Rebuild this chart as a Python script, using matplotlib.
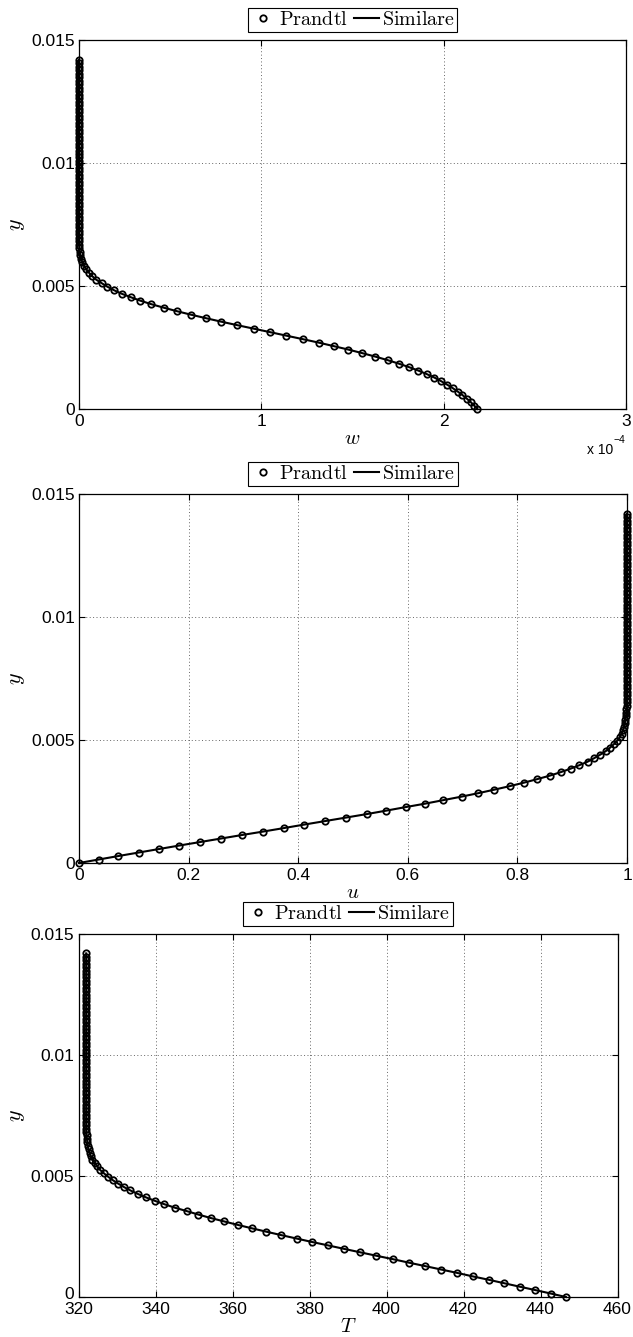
import numpy as np
import matplotlib.pyplot as plt
from matplotlib.transforms import ScaledTranslation

plt.rcParams['font.family'] = ['Liberation Sans', 'DejaVu Sans']
plt.rcParams['mathtext.fontset'] = 'cm'

# uniform y grid of the Prandtl solution (101 nodes up to 0.0142)
y = np.linspace(0, 0.0142, 101)

# w in units of 1e-4
w = [2.185, 2.167, 2.148, 2.126, 2.103, 2.077, 2.049, 2.018, 1.985, 1.949,
     1.907, 1.861, 1.809, 1.753, 1.692, 1.625, 1.553, 1.478, 1.397, 1.315,
     1.227, 1.137, 1.048, 0.958, 0.868, 0.780, 0.696, 0.614, 0.537, 0.465,
     0.397, 0.337, 0.284, 0.234, 0.192, 0.156, 0.125, 0.095, 0.073, 0.055,
     0.040, 0.027, 0.018, 0.013, 0.007, 0.004, 0.002, 0.001] + [0.0] * 53

u = [0.0, 0.036, 0.072, 0.109, 0.146, 0.183, 0.221, 0.259, 0.297, 0.336,
     0.374, 0.411, 0.449, 0.487, 0.525, 0.561, 0.596, 0.632, 0.665, 0.698,
     0.729, 0.758, 0.786, 0.812, 0.836, 0.859, 0.879, 0.897, 0.913, 0.928,
     0.940, 0.951, 0.961, 0.969, 0.976, 0.982, 0.987, 0.990, 0.993, 0.995,
     0.996, 0.997, 0.998, 0.999, 0.999, 1.0, 1.0, 1.0] + [1.0] * 53

T = [446.6, 442.7, 438.7, 434.6, 430.6, 426.6, 422.4, 418.4, 414.2, 410.0,
     405.8, 401.7, 397.4, 393.2, 389.0, 384.9, 380.7, 376.7, 372.7, 368.8,
     365.0, 361.3, 357.8, 354.3, 351.1, 348.1, 345.0, 342.3, 339.8, 337.5,
     335.4, 333.5, 331.8, 330.3, 328.9, 327.7, 326.6, 325.6, 324.9, 324.2,
     323.6, 323.2, 322.9, 322.6, 322.4, 322.3, 322.2, 322.1] + [322.0] * 53

y_ticks = [0, 0.005, 0.01, 0.015]
y_ticklabels = ['0', '0.005', '0.01', '0.015']

W, H = 633, 1337
fig = plt.figure(figsize=(W / 100, H / 100), dpi=100)


def make_axes(left, right, top, bottom):
    return fig.add_axes([left / W, 1 - bottom / H, (right - left) / W, (bottom - top) / H])


def draw(ax, xdata, xlim, xticks, xticklabels, xlabel):
    ax.plot(xdata, y, 'o', ms=4.6, mfc='none', mec='black', mew=1.3,
            label=r'$\mathrm{Prandtl}$', clip_on=False, zorder=3)
    ax.plot(xdata, y, '-', color='black', lw=1.5, label=r'$\mathrm{Similare}$',
            clip_on=False, zorder=4)
    ax.set_xlim(xlim)
    ax.set_ylim(0, 0.015)
    ax.set_xticks(xticks)
    ax.set_xticklabels(xticklabels)
    ax.set_yticks(y_ticks)
    ax.set_yticklabels(y_ticklabels)
    ax.tick_params(direction='in', length=4, width=0.8, labelsize=12.5,
                   top=True, right=True, pad=3)
    ax.tick_params(axis='x', pad=3.5)
    ax.grid(True, linestyle=(0, (1, 2.5)), color='0.4', lw=0.7)
    for s in ax.spines.values():
        s.set_linewidth(0.9)
    ax.set_xlabel(xlabel, fontsize=15, labelpad=0)
    ax.set_ylabel(r'$y$', fontsize=16, labelpad=3)
    ax.set_axisbelow(True)
    gap = 8.5 / ax.get_position().height / H
    leg = ax.legend(loc='lower center', bbox_to_anchor=(0.5, 1 + gap), ncol=2,
                    frameon=True, fancybox=False, edgecolor='black', framealpha=1,
                    borderaxespad=0, handlelength=1.25, handletextpad=0.15,
                    columnspacing=0.3, borderpad=0.12, fontsize=14.5)
    leg.get_frame().set_linewidth(0.8)


ax1 = make_axes(79, 626, 40, 409)
draw(ax1, w, (0, 3), [0, 1, 2, 3], ['0', '1', '2', '3'], r'$w$')
fig.text(613 / W, 1 - 454 / H, 'x 10', ha='right', va='baseline', fontsize=10)
fig.text(613.5 / W, 1 - 443 / H, '\u22124', ha='left', va='baseline', fontsize=7.5)

ax2 = make_axes(79, 627, 494, 863)
draw(ax2, u, (0, 1), [0, 0.2, 0.4, 0.6, 0.8, 1],
     ['0', '0.2', '0.4', '0.6', '0.8', '1'], r'$u$')

ax3 = make_axes(78.5, 617.5, 934, 1297)
draw(ax3, T, (320, 460), [320, 340, 360, 380, 400, 420, 440, 460],
     ['320', '340', '360', '380', '400', '420', '440', '460'], r'$T$')

# lift the y "0" a little so it does not run into the "320" below it
zero_lbl = ax3.get_yticklabels()[0]
zero_lbl.set_transform(zero_lbl.get_transform() + ScaledTranslation(0, 3 / 72, fig.dpi_scale_trans))

fig.savefig('out.png', dpi=100)
